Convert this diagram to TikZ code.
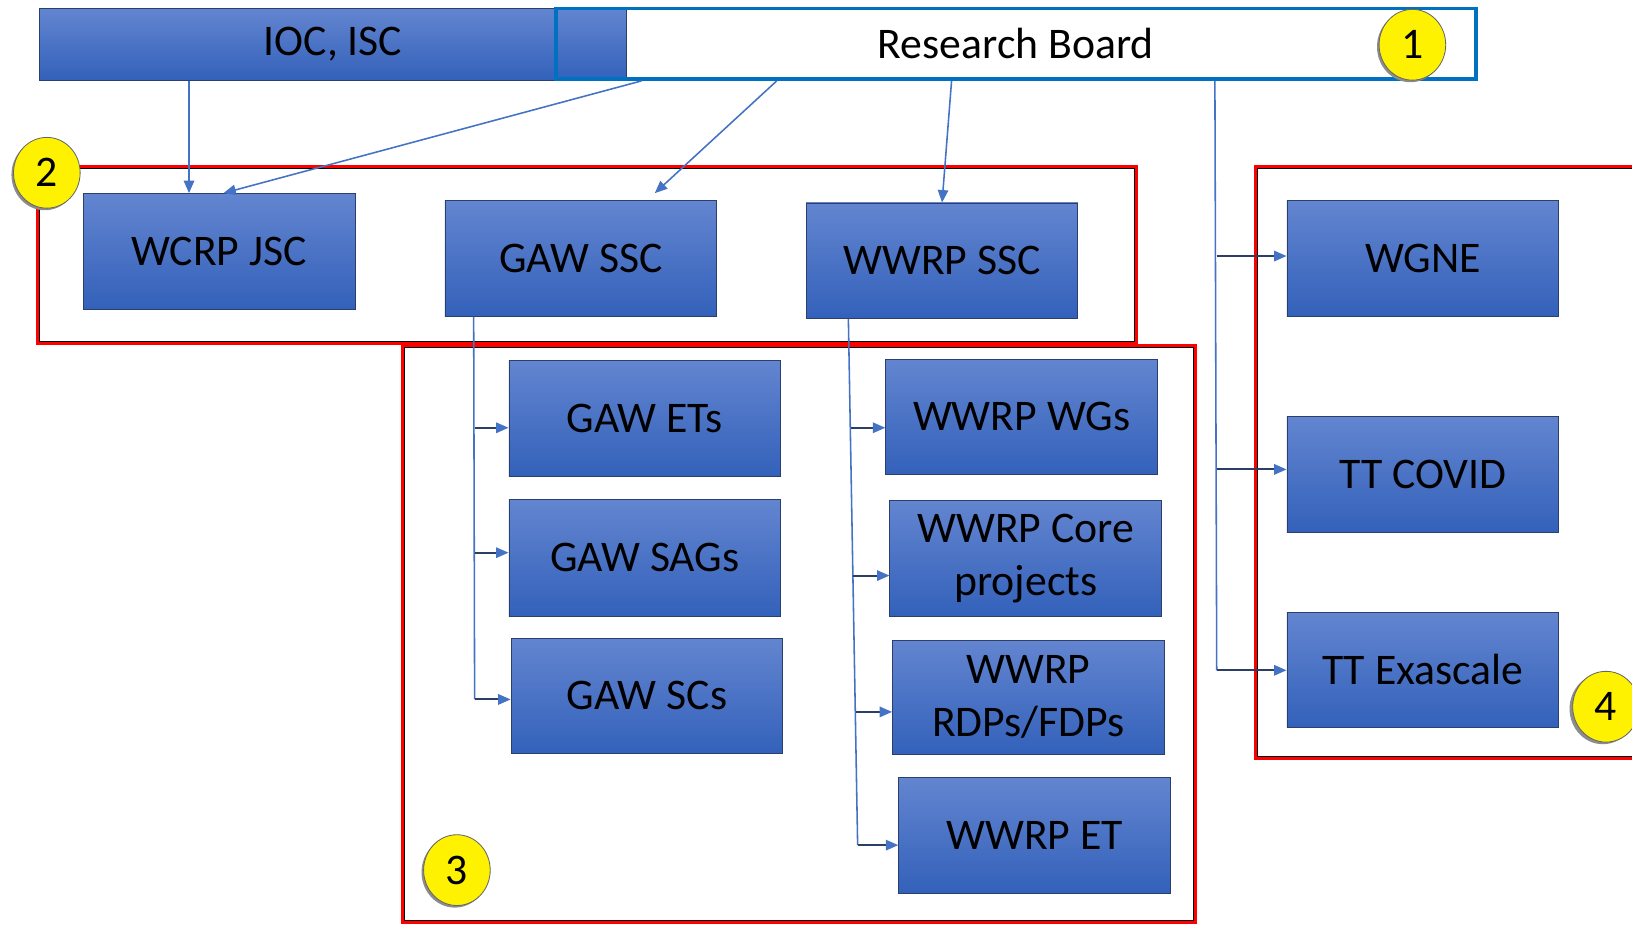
\documentclass[tikz,border=0pt]{standalone}
\usepackage{fontspec}
\setmainfont{Carlito}
\usetikzlibrary{arrows.meta,calc,shapes.geometric}
\definecolor{boxtop}{HTML}{6385D0}
\definecolor{boxbot}{HTML}{3361BA}
\definecolor{boxedge}{HTML}{2A3F6B}
\definecolor{rbblue}{HTML}{0070C0}
\definecolor{lineblue}{HTML}{4472C4}
\definecolor{branchcol}{HTML}{2B3F66}
\definecolor{framered}{HTML}{FF0000}
\begin{document}
\begin{tikzpicture}[x=1pt,y=-1pt,
  bluebox/.style={draw=boxedge, line width=0.8pt, top color=boxtop, bottom color=boxbot,
    minimum width=261pt, minimum height=111pt, inner sep=0pt, align=center,
    font=\fontsize{42pt}{51pt}\selectfont, text=black},
  frame/.style={draw=framered, line width=3pt},
  inframe/.style={draw=black, line width=0.8pt},
  badge/.style={ellipse, fill=yellow, draw=black!60, line width=0.8pt, minimum width=64pt,
    minimum height=68pt, inner sep=0pt, font=\fontsize{42pt}{51pt}\selectfont},
  badgeshadow/.style={ellipse, fill=black!45, minimum width=64pt, minimum height=68pt, inner sep=0pt},
  tip/.style={-{Triangle[length=12pt,width=10pt,color=lineblue]}},
  conn/.style={draw=lineblue, line width=1.5pt},
  trunk/.style={draw=lineblue, line width=1.5pt},
  branch/.style={draw=branchcol, line width=1.8pt, tip}
]
\clip (0,0) rectangle (1568,888);
\fill[white] (0,0) rectangle (1568,888);

% frames
\draw[frame] (36,160) rectangle (1092,330);
\draw[inframe] (38,162) rectangle (1090,328);
\draw[frame] (387,332) rectangle (1149,886);
\draw[inframe] (389,334) rectangle (1147,884);
\draw[frame] (1206,160) rectangle (1590,729);
\draw[inframe] (1208,162) rectangle (1590,727);

% top row
\fill[white] (602,8) rectangle (1418,76);
\node[bluebox, minimum width=564pt, minimum height=69pt] (ioc) at (320,42.5) {IOC, ISC};
\node[draw=rbblue, line width=3.5pt, minimum width=884pt, minimum height=68pt, inner sep=0pt,
  font=\fontsize{42pt}{51pt}\selectfont] (rb) at (976,42) {Research Board};

% level 2 boxes
\node[bluebox] (wcrp) at (210.5,241.5) {WCRP JSC};
\node[bluebox] (gawssc) at (558,248.5) {GAW SSC};
\node[bluebox] (wwrpssc) at (905,250.5) {WWRP SSC};
\node[bluebox] (wgne) at (1367,248.5) {WGNE};
\node[bluebox] (ttcovid) at (1367,456) {TT COVID};
\node[bluebox] (ttexa) at (1367,643.5) {TT Exascale};

% GAW children
\node[bluebox] (gawets) at (619.5,402) {GAW ETs};
\node[bluebox, minimum height=112pt] (gawsags) at (619.5,536) {GAW SAGs};
\node[bluebox] (gawscs) at (621.5,668.5) {GAW SCs};

% WWRP children
\node[bluebox] (wwrpwgs) at (981.5,400.5) {WWRP WGs};
\node[bluebox] (wwrpcore) at (985.5,536.5) {WWRP Core\\projects};
\node[bluebox, minimum height=110pt] (wwrprdp) at (988,670) {WWRP\\RDPs/FDPs};
\node[bluebox] (wwrpet) at (994,802.5) {WWRP ET};

% connectors from top
\draw[conn, tip] ($(ioc.south west)+(144,0)$) -- ($(wcrp.north west)+(102,0)$);
\draw[conn, tip] ($(rb.south west)+(84,0)$) -- ($(wcrp.north west)+(135,0)$);
\draw[conn, tip] ($(rb.south west)+(214,0)$) -- ($(gawssc.north west)+(202,-7)$);
\draw[conn, tip] ($(rb.south west)+(382,0)$) -- ($(wwrpssc.north west)+(131,0)$);

% right trunk
\coordinate (r0) at ($(rb.south west)+(635,0)$);
\coordinate (rend) at (1169,644);
\draw[trunk] (r0) -- (rend);
\coordinate (ra) at (1169,246);
\coordinate (rb2) at (1169,451);
\draw[branch] (ra) -- (ra -| wgne.west);
\draw[branch] (rb2) -- (rb2 -| ttcovid.west);
\draw[branch] (rend) -- (rend -| ttexa.west);

% GAW trunk
\coordinate (g0) at ($(gawssc.south west)+(28,0)$);
\coordinate (gend) at (456,672);
\draw[trunk] (g0) -- (gend);
\coordinate (ga) at (456,411);
\coordinate (gb) at (456,531);
\draw[branch] (ga) -- (ga -| gawets.west);
\draw[branch] (gb) -- (gb -| gawsags.west);
\draw[branch] (gend) -- (gend -| gawscs.west);

% WWRP trunk
\coordinate (w0) at ($(wwrpssc.south west)+(41,0)$);
\coordinate (wend) at (824,812);
\draw[trunk] (w0) -- (wend);
\coordinate (wa) at (817.7,411);
\coordinate (wb) at (819.9,553);
\coordinate (wc) at (822,684);
\draw[branch] (wa) -- (wa -| wwrpwgs.west);
\draw[branch] (wb) -- (wb -| wwrpcore.west);
\draw[branch] (wc) -- (wc -| wwrprdp.west);
\draw[branch] (wend) -- (wend -| wwrpet.west);

% badges
\node[badgeshadow] at (1355,45) {};
\node[badge] (b1) at (1357,43) {1};
\node[badgeshadow] at (43,168) {};
\node[badge] (b2) at (45,166) {2};
\node[badgeshadow] at (437,838) {};
\node[badge] (b3) at (439,836) {3};
\node[badgeshadow] at (1540,681) {};
\node[badge] (b4) at (1543,679) {4};
\end{tikzpicture}
\end{document}
